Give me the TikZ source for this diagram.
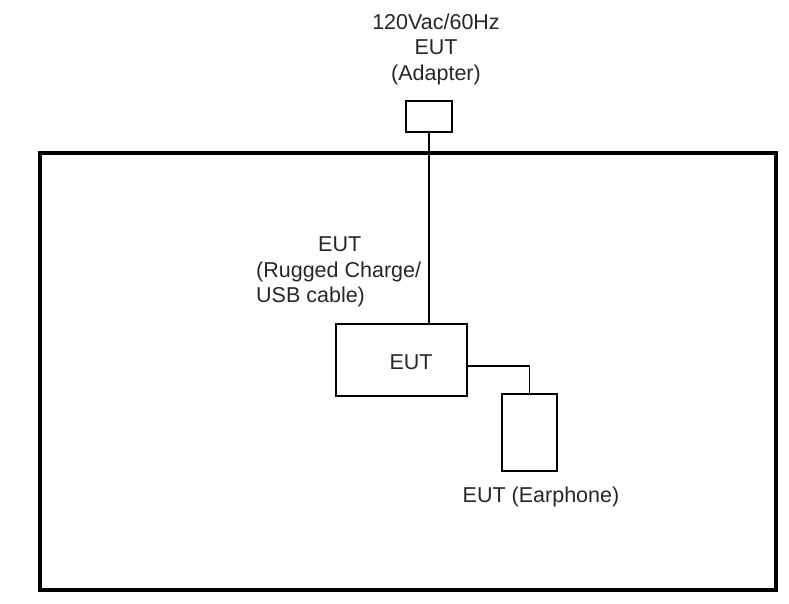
\documentclass[tikz,border=0pt]{standalone}
\usepackage{fontspec}
\setmainfont{Liberation Sans}
\begin{document}
\begin{tikzpicture}[x=1pt,y=-1pt,
  box/.style={draw,line width=1.5pt,inner sep=0pt,rectangle},
  txt/.style={inner sep=0pt,font=\fontsize{21.5}{25.5}\selectfont,text=black!85},
  wire/.style={line width=1.5pt}]
\useasboundingbox (0,0) rectangle (789,604);
\node[box,line width=4pt,minimum width=736pt,minimum height=437pt] (frame) at (408,371.5) {};
\node[box,minimum width=46pt,minimum height=31pt] (adapter) at (429,116.5) {};
\node[box,minimum width=131pt,minimum height=72pt] (eut) at (401.5,360) {};
\node[box,minimum width=55pt,minimum height=77pt] (ear) at (529.5,432.5) {};
\node[txt,align=center] (adtext) at (436,49) {120Vac/60Hz\\EUT\\(Adapter)};
\node[txt,align=left,anchor=north west] (cabletext) at (256,237) {\hspace*{62pt}EUT\\(Rugged Charge/\\USB cable)};
\node[txt] (euttext) at (411,362) {EUT};
\node[txt] (eartext) at (541,497) {EUT (Earphone)};
\draw[wire] (adapter.south) -- (adapter.south |- eut.north);
\draw[wire] ([yshift=-6pt]eut.east) -| (ear.north);
\end{tikzpicture}
\end{document}
